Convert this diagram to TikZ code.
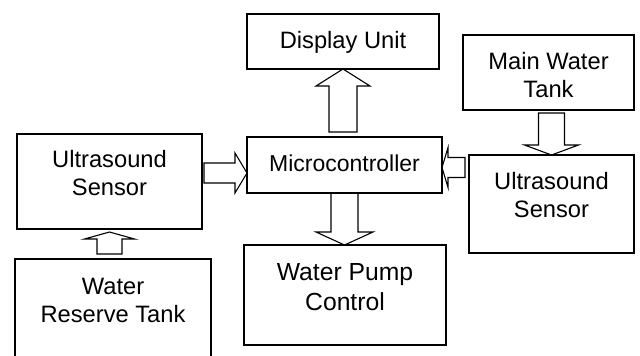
\documentclass[tikz,border=0pt]{standalone}
\usepackage{fontspec}
\setmainfont{Liberation Sans}
\usetikzlibrary{calc}

\begin{document}
\begin{tikzpicture}[
  x=1pt, y=-1pt,
  box/.style={draw, line width=1.5pt, anchor=north west, align=center,
    inner sep=0pt, outer sep=0pt, font=\fontsize{23.7}{28}\selectfont},
  blk/.style n args={3}{line width=1.1pt, line join=miter, to path={
    ($(\tikztostart)!#1!90:(\tikztotarget)$)
    -- ($($(\tikztotarget)!#3!(\tikztostart)$)!#1!90:(\tikztotarget)$)
    -- ($($(\tikztotarget)!#3!(\tikztostart)$)!#2!90:(\tikztotarget)$)
    -- (\tikztotarget)
    -- ($($(\tikztotarget)!#3!(\tikztostart)$)!#2!-90:(\tikztotarget)$)
    -- ($($(\tikztotarget)!#3!(\tikztostart)$)!#1!-90:(\tikztotarget)$)
    -- ($(\tikztostart)!#1!-90:(\tikztotarget)$)
    -- cycle}}
]
\useasboundingbox (0,0) rectangle (640,356);
\clip (0,0) rectangle (640,356);

\node[box, minimum width=192pt, text height=34pt, text depth=21pt] (disp) at (247,14) {Display Unit};
\node[box, minimum width=171pt, text height=62pt, text depth=13pt] (mwt) at (463,35) {Main Water\\Tank};
\node[box, minimum width=185pt, text height=61pt, text depth=34pt] (lus) at (17,134) {Ultrasound\\Sensor};
\node[box, minimum width=195pt, text height=34pt, text depth=22pt,
  font=\fontsize{23}{28}\selectfont] (mc) at (247,137) {Microcontroller};
\node[box, minimum width=165pt, text height=62pt, text depth=36pt] (rus) at (469,155) {Ultrasound\\Sensor};
\node[box, minimum width=202pt, text height=65pt, text depth=35pt,
  font=\fontsize{24.7}{30}\selectfont] (pump) at (244,245) {Water Pump\\Control};
\node[box, minimum width=196pt, text height=63pt, text depth=58pt] (wrt) at (15,259) {Water\\Reserve Tank};

\draw[blk={14pt}{27pt}{17pt}] ([yshift=5pt]disp.south |- mc.north) to (disp.south);
\draw[blk={13.5pt}{28.5pt}{13pt}] (mc.south) to (mc.south |- pump.north);
\draw[blk={10pt}{20pt}{12pt}] ([xshift=2pt,yshift=8.5pt]lus.east) to ([yshift=-8pt]mc.west);
\draw[blk={10pt}{20pt}{6pt}] ([xshift=-4pt,yshift=36.5pt]rus.west) to ([yshift=-2.5pt]mc.east);
\draw[blk={13pt}{27pt}{10pt}] ([yshift=-3pt]rus.north |- mwt.south) to (rus.north);
\draw[blk={12.5pt}{25pt}{7pt}] ([yshift=5pt]lus.south |- wrt.north) to ([yshift=-3pt]lus.south);
\end{tikzpicture}
\end{document}
